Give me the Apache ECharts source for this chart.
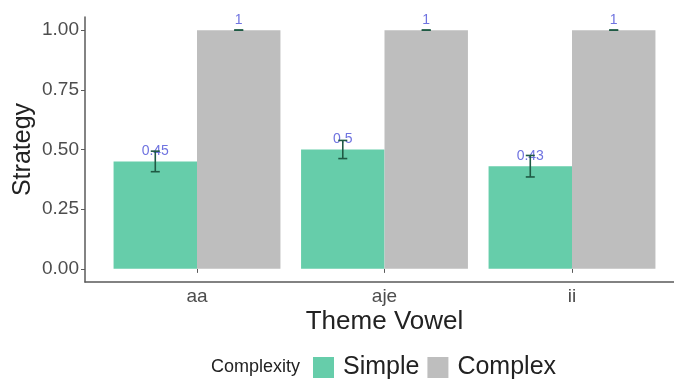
<!DOCTYPE html>
<html>
<head>
<meta charset="utf-8">
<script src="https://cdn.jsdelivr.net/npm/echarts@6/dist/echarts.min.js"></script>
<style>
  html, body { margin: 0; padding: 0; background: #fff; }
  #chart { width: 674px; height: 381px; }
</style>
</head>
<body>
<div id="chart"></div>
<script>
// Theme vowel categories and mean strategy per complexity level
const categories = ['aa', 'aje', 'ii'];
const simpleValues = [0.45, 0.5, 0.43];
const complexValues = [1, 1, 1];
// Standard errors for each mean
const simpleErrors = [0.043, 0.038, 0.045];
const complexErrors = [0, 0, 0];
const yTicks = [0, 0.25, 0.5, 0.75, 1];

const GREEN = '#66CDAA';
const GREY = '#BEBEBE';
const BAR_FRAC = 0.445;   // each bar's share of a category band

function errorSeries(name, values, errors, side) {
  return {
    type: 'custom',
    name: name + ' error',
    xAxisIndex: 0,
    yAxisIndex: 0,
    z: 5,
    silent: true,
    data: values.map((v, i) => [i, v - errors[i], v + errors[i]]),
    renderItem: function (params, api) {
      const i = api.value(0);
      const lo = api.coord([i, api.value(1)]);
      const hi = api.coord([i, api.value(2)]);
      const band = api.size([1, 0])[0];
      const x = lo[0] + side * band * BAR_FRAC / 2;
      const cap = 4.5;
      const style = { stroke: '#1f5a44', lineWidth: 1.6 };
      return {
        type: 'group',
        children: [
          { type: 'line', shape: { x1: x, y1: lo[1], x2: x, y2: hi[1] }, style },
          { type: 'line', shape: { x1: x - cap, y1: lo[1], x2: x + cap, y2: lo[1] }, style },
          { type: 'line', shape: { x1: x - cap, y1: hi[1], x2: x + cap, y2: hi[1] }, style }
        ]
      };
    }
  };
}

const axisText = '#4d4d4d';
const lineColor = '#5a5a5a';
const FONT = 'Liberation Sans, Arial, sans-serif';

const chart = echarts.init(document.getElementById('chart'), null, { renderer: 'canvas' });
chart.setOption({
  animation: false,
  backgroundColor: '#ffffff',
  textStyle: { fontFamily: FONT },
  grid: [
    // plotting band for the bars
    { left: 103.25, right: 8.25, top: 17, bottom: 99, outerBoundsMode: 'none', containLabel: false },
    // full panel frame for the axis lines
    { left: 85, right: -10, top: 17, bottom: 99, outerBoundsMode: 'none', containLabel: false }
  ],
  xAxis: [
    {
      type: 'category',
      gridIndex: 0,
      data: categories,
      axisLine: { show: false },
      axisTick: { show: true, alignWithLabel: true, length: 4, lineStyle: { color: lineColor, width: 1 } },
      axisLabel: { color: axisText, fontSize: 19, margin: 5 },
      name: 'Theme Vowel',
      nameLocation: 'middle',
      nameGap: 27,
      nameMoveOverlap: false,
      nameTextStyle: { color: '#222', fontSize: 26 }
    },
    {
      type: 'value',
      gridIndex: 1,
      min: 0, max: 1,
      axisLine: { show: true, onZero: false, lineStyle: { color: lineColor, width: 1.5 } },
      axisTick: { show: false },
      axisLabel: { show: false },
      splitLine: { show: false }
    }
  ],
  yAxis: [
    {
      type: 'value',
      gridIndex: 0,
      min: -0.055, max: 1.055,
      show: false,
      splitLine: { show: false }
    },
    {
      type: 'value',
      gridIndex: 1,
      min: -0.055, max: 1.055,
      axisLine: { show: true, onZero: false, lineStyle: { color: lineColor, width: 1.5 } },
      axisTick: { show: true, length: 4, customValues: yTicks, lineStyle: { color: lineColor, width: 1 } },
      axisLabel: {
        color: axisText, fontSize: 19, margin: 6,
        customValues: yTicks,
        formatter: v => v.toFixed(2)
      },
      splitLine: { show: false },
      name: 'Strategy',
      nameLocation: 'middle',
      nameRotate: 90,
      nameGap: 49,
      nameMoveOverlap: false,
      nameTextStyle: { color: '#222', fontSize: 25 }
    }
  ],
  legend: {
    left: 308,
    top: 350,
    itemWidth: 21,
    itemHeight: 21,
    itemGap: 8,
    icon: 'rect',
    data: ['Simple', 'Complex'],
    textStyle: { color: '#222', fontSize: 25, padding: [2, 0, 0, 4] }
  },
  graphic: [
    {
      type: 'text',
      left: 211,
      top: 358,
      style: { text: 'Complexity', fontSize: 18, fill: '#222', fontFamily: FONT }
    }
  ],
  series: [
    {
      name: 'Simple',
      type: 'bar',
      xAxisIndex: 0, yAxisIndex: 0,
      data: simpleValues,
      barWidth: (BAR_FRAC * 100) + '%',
      barGap: '0%',
      itemStyle: { color: GREEN },
      label: { show: true, position: 'top', distance: 3, color: '#6f73e0', fontSize: 14 }
    },
    {
      name: 'Complex',
      type: 'bar',
      xAxisIndex: 0, yAxisIndex: 0,
      data: complexValues,
      barWidth: (BAR_FRAC * 100) + '%',
      barGap: '0%',
      itemStyle: { color: GREY },
      label: { show: true, position: 'top', distance: 3, color: '#6f73e0', fontSize: 14 }
    },
    errorSeries('Simple', simpleValues, simpleErrors, -1),
    errorSeries('Complex', complexValues, complexErrors, 1)
  ]
});
</script>
</body>
</html>
